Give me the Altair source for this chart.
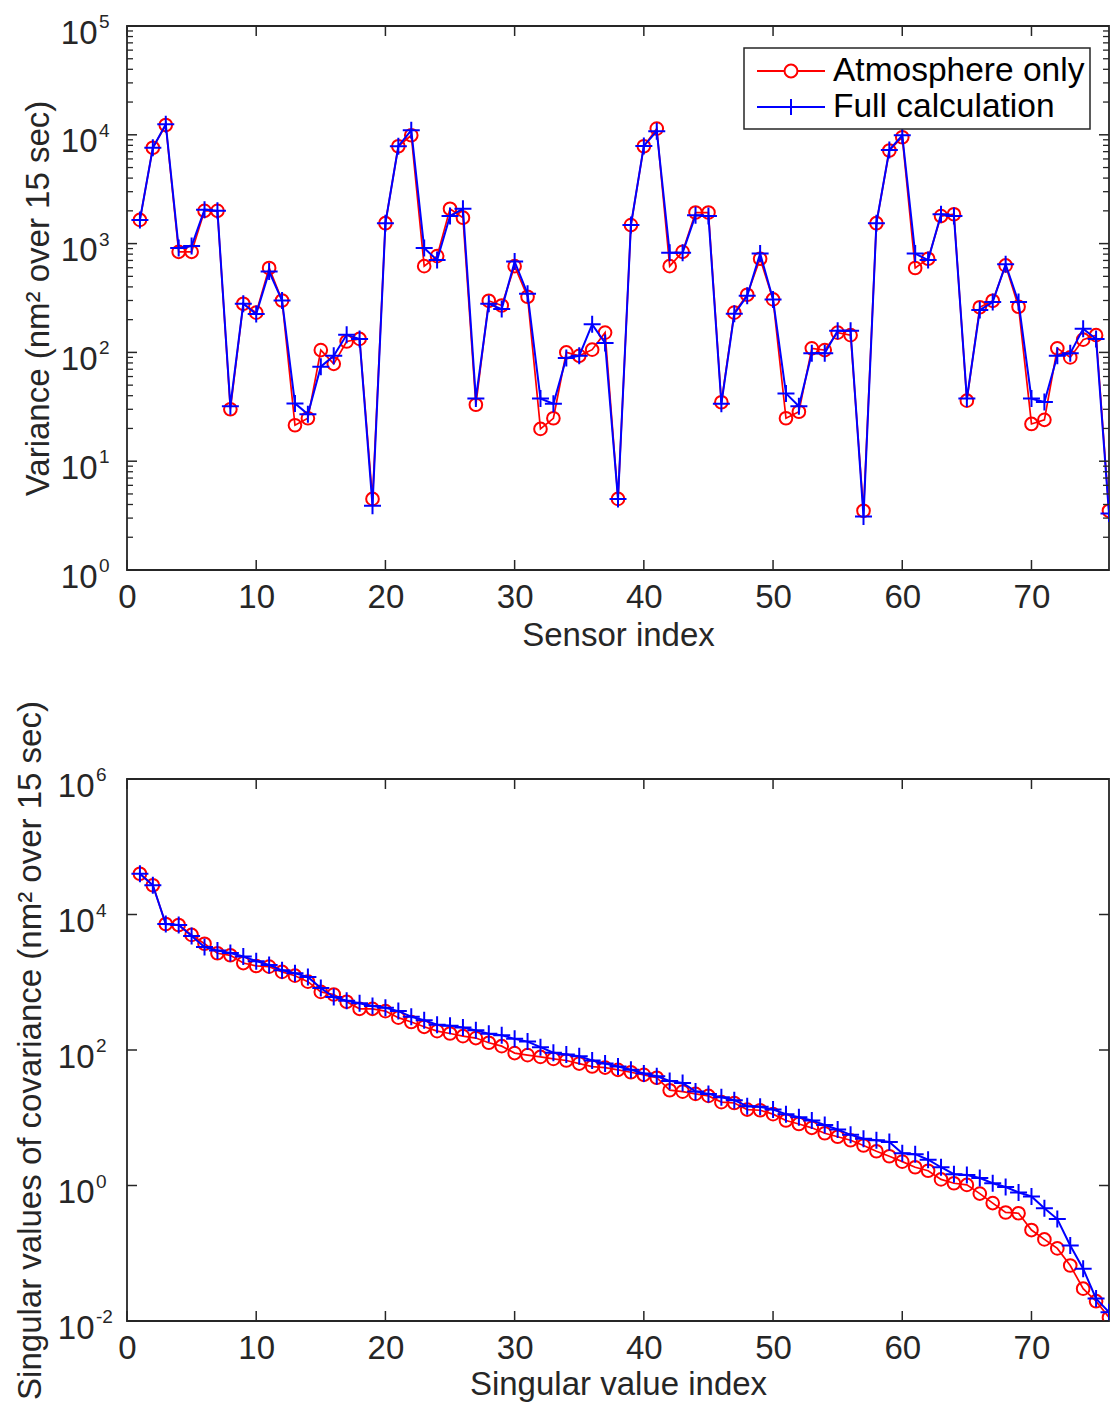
import altair as alt
import pandas as pd

# ---------------- data ----------------
sensor_index = list(range(1, 77))
atm_variance = [1650, 7600, 12300, 840, 840, 2000, 2000, 30, 280, 232,
                597, 300, 21.4, 24.8, 105, 78.5, 126, 133, 4.5, 1540,
                7850, 9900, 620, 767, 2090, 1730, 33, 298, 270, 620,
                325, 19.8, 24.8, 100, 93, 106, 152, 4.5, 1480, 7850,
                11400, 620, 840, 1930, 1930, 34.8, 232, 339, 725, 307,
                24.8, 28.5, 109, 105, 152, 144, 3.5, 1540, 7170, 9490,
                597, 725, 1790, 1860, 36, 260, 298, 630, 263, 22,
                24, 109, 90, 131, 144, 3.5]
full_variance = [1650, 7600, 12500, 910, 950, 2050, 2000, 32, 280, 225,
                 553, 300, 34, 27, 74, 93, 145, 133, 3.9, 1540,
                 7850, 11000, 910, 705, 1790, 2090, 37.6, 280, 250, 684,
                 346, 37.6, 33.7, 89, 93, 181, 122, 4.5, 1480, 7900,
                 10800, 823, 823, 1820, 1790, 33.7, 226, 331, 810, 307,
                 42, 32, 98, 98, 158, 158, 3.1, 1540, 7250, 9900,
                 810, 705, 1860, 1790, 37.6, 245, 290, 646, 290, 37.6,
                 35, 93, 98, 165, 133, 3.3]

sv_index = list(range(1, 77))
atm_sv = [40000, 27000, 7250, 7000, 5000, 3700, 2680, 2500, 1920, 1740,
          1700, 1420, 1250, 1020, 720, 660, 515, 405, 405, 375,
          300, 259, 220, 190, 175, 160, 150, 128, 114, 90,
          84, 79, 74, 70, 63, 57, 55, 51, 47, 43,
          39, 25.5, 24.3, 22.5, 21, 17, 16.5, 13.2, 12.9, 11.3,
          9.1, 8.1, 7.1, 5.9, 5.25, 4.65, 3.9, 3.2, 2.7, 2.25,
          1.86, 1.65, 1.23, 1.08, 1.02, 0.76, 0.55, 0.40, 0.39, 0.22,
          0.16, 0.118, 0.066, 0.030, 0.0196, 0.0113]
full_sv = [40000, 27000, 7250, 7000, 4800, 3300, 2930, 2700, 2400, 2050,
           1800, 1500, 1360, 1200, 820, 605, 535, 490, 445, 420,
           375, 310, 275, 236, 228, 215, 195, 174, 165, 146,
           133, 110, 91, 86, 81, 70, 63, 57, 51, 45,
           41, 35, 32.5, 24.5, 22.5, 20, 18.2, 14.8, 14.5, 13.2,
           11.3, 10.2, 9.1, 7.8, 6.7, 5.6, 4.9, 4.65, 4.4, 3.0,
           2.9, 2.4, 1.86, 1.47, 1.43, 1.29, 1.08, 0.95, 0.79, 0.69,
           0.46, 0.32, 0.13, 0.059, 0.0214, 0.0135]

series_names = ["Atmosphere only", "Full calculation"]
series_colors = ["#ff0000", "#0000ff"]

x_ticks = [0, 10, 20, 30, 40, 50, 60, 70]
top_y_ticks = [1, 10, 100, 1000, 10000, 100000]
top_y_exponents = ["0", "1", "2", "3", "4", "5"]
top_y_minor = [m * 10 ** k for k in range(0, 5) for m in range(2, 10)]
bottom_y_ticks = [0.01, 1, 100, 10000, 1000000]
bottom_y_exponents = ["-2", "0", "2", "4", "6"]

# ---------------- styling ----------------
FONT = "Liberation Sans"
AX = "#262626"
W = 982
PLUS = "M-1,0L1,0M0,-1L0,1"
LEG_CIRCLE = ("M-2,0L-0.38,0M0.38,0L2,0"
              "M-0.38,0A0.38,0.38 0 1,1 0.38,0A0.38,0.38 0 1,1 -0.38,0")
LEG_PLUS = "M-2,0L2,0M0,-0.47L0,0.47"


def panel(xvals, atm, full, xtitle, ytitle, ydomain, yticks, yexps, yminor,
          H, label_pad, exp_x, title_x, legend_y, xtitle_y):
    df = pd.DataFrame({"i": xvals, "atm": atm, "full": full})
    xs = alt.Scale(domain=[0, 76], nice=False, zero=False)
    ys = alt.Scale(type="log", domain=ydomain, nice=False)
    xaxis = alt.Axis(values=x_ticks, title=xtitle, ticks=False, domain=False,
                     grid=False, labelFont=FONT, labelFontSize=33,
                     labelColor=AX, labelPadding=37, labelBaseline="alphabetic",
                     labelFlush=False, labelOverlap=False, titleFont=FONT,
                     titleFontSize=33, titleFontWeight="normal", titleColor=AX,
                     titleY=xtitle_y, titleBaseline="alphabetic")
    yaxis = alt.Axis(values=yticks, labelExpr="'10'", title=ytitle,
                     ticks=False, domain=False, grid=False, labelFont=FONT,
                     labelFontSize=33, labelColor=AX, labelPadding=label_pad,
                     labelBaseline="alphabetic", labelOffset=17,
                     labelFlush=False, labelOverlap=False, titleFont=FONT,
                     titleFontSize=33, titleFontWeight="normal", titleColor=AX,
                     titleX=title_x, titleY=H / 2, titleAngle=270,
                     titleBaseline="middle", titleAlign="center")

    def X(f):
        return alt.X(f, scale=xs, axis=xaxis)

    def Y(f):
        return alt.Y(f, scale=ys, axis=yaxis)

    base = alt.Chart(df)
    red_line = base.mark_line(color=series_colors[0], strokeWidth=1.7, clip=True).encode(
        x=X("i:Q"), y=Y("atm:Q"))
    red_pts = base.mark_point(shape="circle", filled=False, size=160, strokeWidth=2,
                              color=series_colors[0], opacity=1, clip=True).encode(
        x=X("i:Q"), y=Y("atm:Q"))
    blue_line = base.mark_line(color=series_colors[1], strokeWidth=2, clip=True).encode(
        x=X("i:Q"), y=Y("full:Q"))
    blue_pts = base.mark_point(shape=PLUS, filled=False, size=289, strokeWidth=2,
                               color=series_colors[1], opacity=1, clip=True).encode(
        x=X("i:Q"), y=Y("full:Q"))

    # legend (invisible layer carrying the colour/shape scales)
    leg_df = pd.DataFrame({"series": series_names, "i": [xvals[0]] * 2,
                           "v": [atm[0], full[0]]})
    leg = alt.Legend(title=None, orient="none", legendX=617, legendY=legend_y,
                     direction="vertical", fillColor="white", strokeColor=AX,
                     padding=5, labelFont=FONT, labelFontSize=33.5,
                     labelColor="black", labelOffset=24, labelLimit=400,
                     symbolSize=1156, symbolStrokeWidth=2, rowPadding=1,
                     symbolOffset=24, symbolFillColor="transparent")
    legend_layer = alt.Chart(leg_df).mark_point(opacity=0, filled=False, strokeWidth=2).encode(
        x=X("i:Q"), y=Y("v:Q"),
        color=alt.Color("series:N", scale=alt.Scale(domain=series_names, range=series_colors),
                        legend=leg),
        shape=alt.Shape("series:N", scale=alt.Scale(domain=series_names,
                                                    range=[LEG_CIRCLE, LEG_PLUS]),
                        legend=leg))

    # inward ticks
    xt = alt.Chart(pd.DataFrame({"t": x_ticks}))
    xb = xt.mark_rule(color=AX, strokeWidth=1.5).encode(
        x=X("t:Q"), y=alt.value(H), y2=alt.value(H - 10))
    xtop = xt.mark_rule(color=AX, strokeWidth=1.5).encode(
        x=X("t:Q"), y=alt.value(0), y2=alt.value(10))
    yt = alt.Chart(pd.DataFrame({"t": yticks}))
    yl = yt.mark_rule(color=AX, strokeWidth=1.5).encode(
        y=Y("t:Q"), x=alt.value(0), x2=alt.value(10))
    yr = yt.mark_rule(color=AX, strokeWidth=1.5).encode(
        y=Y("t:Q"), x=alt.value(W - 10), x2=alt.value(W))
    layers = [xb, xtop, yl, yr]
    if yminor:
        ym = alt.Chart(pd.DataFrame({"t": yminor}))
        layers.append(ym.mark_rule(color=AX, strokeWidth=1.3).encode(
            y=Y("t:Q"), x=alt.value(0), x2=alt.value(6)))
        layers.append(ym.mark_rule(color=AX, strokeWidth=1.3).encode(
            y=Y("t:Q"), x=alt.value(W - 6), x2=alt.value(W)))

    # exponents of the 10^n labels
    exps = alt.Chart(pd.DataFrame({"t": yticks, "e": yexps})).mark_text(
        align="left", baseline="alphabetic", font=FONT, fontSize=19, color=AX, dy=2).encode(
        y=Y("t:Q"), x=alt.value(exp_x), text="e:N")

    return alt.layer(red_line, red_pts, blue_line, blue_pts, legend_layer,
                     *layers, exps).properties(width=W, height=H)


top = panel(sensor_index, atm_variance, full_variance, "Sensor index",
            "Variance (nm² over 15 sec)", [1, 100000], top_y_ticks,
            top_y_exponents, top_y_minor, 544, 30, -28, -89, 22, 75)
bottom = panel(sv_index, atm_sv, full_sv, "Singular value index",
               "Singular values of covariance (nm² over 15 sec)", [0.01, 1000000],
               bottom_y_ticks, bottom_y_exponents, None, 542, 33, -31, -97, 22, 73)

chart = alt.vconcat(top, bottom, spacing=209, bounds="flush").properties(
    padding={"left": 5, "top": 4, "right": 0, "bottom": 0}
).configure_view(stroke=AX, strokeWidth=1.8).configure_legend(strokeWidth=1.5)

chart.save("out.html", embed_options={"renderer": "svg", "actions": False})
